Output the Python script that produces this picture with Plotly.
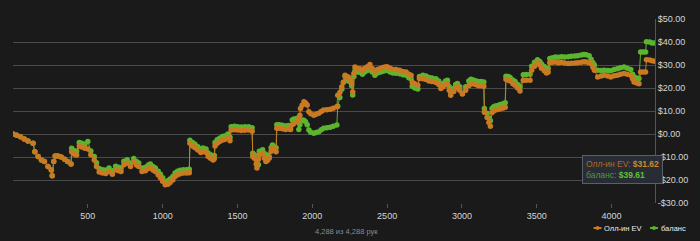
import plotly.graph_objects as go

# ---------------- data ----------------
hands = [
    0, 25, 50, 75, 100, 134, 146, 168, 190, 210, 234, 256, 262, 272, 282, 300, 322, 345, 365, 388,
    392, 410, 425, 443, 460, 480, 500, 520, 543, 558, 576, 598, 620, 642, 664, 686, 705, 722, 741, 763,
    785, 807, 825, 840, 862, 885, 905, 918, 935, 951, 970, 985, 1000, 1017, 1035, 1050, 1068, 1083, 1100, 1117,
    1138, 1160, 1178, 1182, 1200, 1216, 1235, 1255, 1270, 1290, 1304, 1320, 1337, 1345, 1350, 1365, 1381, 1400, 1414, 1436,
    1450, 1458, 1480, 1502, 1525, 1550, 1575, 1598, 1602, 1613, 1625, 1630, 1640, 1646, 1668, 1680, 1690, 1700, 1712, 1725,
    1734, 1745, 1758, 1763, 1780, 1800, 1820, 1840, 1855, 1866, 1877, 1899, 1910, 1917, 1921, 1932, 1944, 1955, 1966, 1977,
    1990, 2010, 2025, 2043, 2060, 2076, 2098, 2120, 2140, 2164, 2170, 2184, 2197, 2208, 2219, 2230, 2241, 2255, 2263, 2270,
    2278, 2285, 2300, 2318, 2335, 2350, 2368, 2385, 2400, 2418, 2435, 2451, 2468, 2484, 2500, 2520, 2539, 2560, 2583, 2605,
    2627, 2645, 2660, 2668, 2685, 2705, 2716, 2739, 2760, 2780, 2800, 2826, 2845, 2859, 2875, 2890, 2903, 2915, 2925, 2945,
    2958, 2970, 2985, 3003, 3025, 3046, 3060, 3075, 3091, 3110, 3128, 3146, 3150, 3168, 3180, 3190, 3201, 3212, 3223, 3240,
    3256, 3275, 3289, 3294, 3310, 3322, 3340, 3355, 3372, 3388, 3410, 3430, 3455, 3466, 3485, 3505, 3520, 3532, 3550, 3565,
    3576, 3587, 3605, 3625, 3645, 3665, 3686, 3710, 3731, 3755, 3774, 3797, 3815, 3830, 3850, 3863, 3875, 3885, 3907, 3930,
    3951, 3975, 3995, 4017, 4039, 4060, 4083, 4105, 4128, 4140, 4150, 4168, 4183, 4194, 4210, 4227, 4233, 4255, 4270, 4288,
]

allin_ev = [
    0.0, -0.5, -1.2, -2.2, -3.0, -4.0, -7.7, -9.8, -11.3, -12.0, -14.1, -15.6, -18.2, -12.0, -9.6, -9.6, -10.0, -11.0, -12.0, -13.0,
    -7.7, -8.8, -9.1, -5.2, -5.6, -6.2, -6.5, -9.0, -11.3, -14.1, -16.5, -17.0, -17.2, -16.3, -17.5, -15.6, -16.0, -16.3, -13.4, -12.7,
    -14.1, -12.2, -13.5, -14.1, -16.3, -16.0, -15.0, -14.5, -15.6, -16.3, -17.7, -19.0, -20.5, -22.1, -21.8, -21.1, -20.0, -18.5, -17.7, -17.3,
    -17.0, -17.0, -16.8, -4.0, -5.2, -6.0, -7.0, -8.0, -7.6, -8.0, -9.8, -10.5, -11.3, -10.8, -5.2, -4.0, -3.3, -2.6, -2.4, -1.5,
    -2.9, 1.7, 1.9, 1.7, 1.5, 1.6, 1.7, 1.2, -9.8, -10.5, -13.0, -14.8, -11.0, -9.1, -8.4, -10.5, -12.0, -11.5, -10.5, -7.5,
    -6.2, -7.0, -7.7, 2.5, 2.5, 2.3, 2.0, 2.2, 2.0, 4.0, 4.6, 5.3, 6.5, 8.2, 11.1, 12.5, 14.0, 13.5, 12.6, 9.7,
    8.8, 8.2, 8.6, 9.0, 9.8, 10.4, 10.5, 10.8, 11.2, 11.8, 16.9, 18.0, 20.5, 22.5, 25.5, 25.0, 24.8, 23.5, 22.0, 18.3,
    26.3, 29.1, 28.5, 28.4, 27.7, 28.6, 29.2, 30.2, 28.5, 27.0, 28.0, 28.4, 28.8, 29.1, 29.2, 28.6, 28.0, 28.0, 27.7, 27.2,
    27.0, 26.0, 25.5, 22.5, 21.8, 21.2, 24.1, 24.0, 23.7, 23.0, 22.8, 22.4, 21.5, 19.8, 20.5, 21.5, 21.9, 19.0, 16.9, 18.5,
    20.0, 20.5, 19.0, 17.4, 19.0, 21.0, 21.9, 21.8, 21.5, 21.0, 21.0, 20.8, 9.5, 7.2, 5.0, 3.4, 9.3, 10.0, 10.4, 10.6,
    11.0, 11.3, 11.6, 23.8, 23.4, 23.0, 21.8, 21.2, 20.0, 18.7, 23.4, 23.4, 23.4, 27.7, 29.5, 31.0, 30.0, 28.6, 27.5, 26.5,
    27.0, 31.0, 31.2, 31.3, 31.0, 31.2, 30.9, 30.7, 30.8, 30.9, 31.0, 31.2, 31.4, 31.3, 31.0, 30.6, 29.0, 27.7, 24.8, 25.2,
    25.5, 25.2, 24.8, 25.3, 25.5, 26.0, 26.3, 26.0, 25.5, 24.0, 22.6, 22.2, 21.9, 27.0, 27.0, 27.0, 32.3, 32.2, 31.8, 31.62,
]

balance = [
    0.0, -0.5, -1.2, -2.2, -3.0, -4.0, -7.7, -9.8, -11.3, -12.0, -14.1, -15.6, -18.2, -12.0, -9.6, -9.6, -10.0, -11.0, -12.0, -13.0,
    -6.2, -7.3, -7.5, -3.7, -4.0, -4.5, -3.3, -7.4, -9.8, -12.5, -15.0, -15.5, -15.6, -14.8, -16.0, -14.0, -14.5, -14.8, -11.9, -11.2,
    -12.6, -10.7, -12.0, -12.6, -14.8, -14.5, -13.5, -13.0, -14.1, -14.8, -16.2, -17.5, -19.0, -20.6, -20.3, -19.6, -18.5, -17.0, -16.2, -15.8,
    -15.5, -15.5, -15.3, -2.7, -3.7, -4.5, -5.5, -6.5, -6.1, -6.5, -8.3, -9.0, -9.8, -9.3, -3.7, -2.5, -1.8, -1.1, -0.9, 0.0,
    -1.4, 3.2, 3.4, 3.2, 3.0, 3.1, 3.2, 2.7, -8.4, -9.0, -11.0, -12.5, -13.4, -7.5, -6.9, -8.5, -9.5, -9.1, -9.8, -6.0,
    -4.8, -5.5, -6.0, 4.0, 4.0, 3.8, 3.5, 3.7, 3.5, 6.1, 6.5, 6.8, 2.0, 4.0, 5.5, 6.1, 6.0, 5.3, 4.0, 1.7,
    0.8, 0.3, 0.6, 1.0, 1.8, 2.5, 2.7, 2.9, 3.4, 3.9, 12.1, 15.9, 19.5, 22.5, 25.0, 24.0, 23.0, 22.6, 21.0, 17.0,
    25.0, 27.5, 27.0, 26.8, 26.0, 27.0, 27.6, 28.6, 27.0, 25.5, 26.5, 26.8, 27.2, 27.5, 27.6, 27.0, 26.5, 26.4, 26.2, 25.8,
    25.5, 24.5, 24.0, 20.8, 20.0, 19.6, 25.0, 25.5, 25.2, 24.6, 24.4, 24.0, 23.0, 21.5, 22.0, 23.0, 23.4, 20.5, 18.0, 19.8,
    21.5, 22.0, 20.5, 17.6, 20.5, 23.0, 23.8, 23.5, 23.2, 22.8, 22.8, 22.6, 11.1, 9.0, 7.0, 5.8, 11.1, 11.8, 12.2, 12.4,
    12.8, 13.2, 13.6, 25.1, 25.0, 24.6, 23.5, 22.8, 21.5, 20.5, 25.8, 25.9, 26.0, 29.5, 31.2, 32.3, 31.5, 30.4, 29.4, 28.4,
    28.6, 32.8, 33.2, 33.5, 33.4, 33.6, 33.5, 33.6, 33.8, 33.9, 34.0, 34.3, 34.6, 34.5, 34.0, 32.5, 31.0, 30.0, 27.7, 27.6,
    27.7, 27.6, 27.5, 28.0, 28.4, 28.8, 29.1, 28.6, 28.0, 26.0, 24.8, 24.3, 24.1, 35.6, 35.6, 35.6, 40.1, 40.0, 39.6, 39.61,
]

assert len(hands) == len(allin_ev) == len(balance)

series_names = ["Олл-ин EV", "баланс"]
y_tick_values = [-30, -20, -10, 0, 10, 20, 30, 40, 50]
y_tick_labels = ["-$30.00", "-$20.00", "-$10.00", "$0.00", "$10.00", "$20.00", "$30.00", "$40.00", "$50.00"]
x_tick_values = [500, 1000, 1500, 2000, 2500, 3000, 3500, 4000]
tooltip_values = ["$31.62", "$39.61"]
footer_text = "4,288 из 4,288 рук"

# ---------------- styling / layout ----------------
W, H = 700, 241
ML, MR, MT, MB = 13, 39, 19, 38
PW, PH = W - ML - MR, H - MT - MB


def px(x):
    return (x - ML) / PW


def py(y):
    return 1 - (y - MT) / PH


BG = "#1a1a1a"
GRID = "#4a4a4a"
ORANGE = "#c97a22"
GREEN = "#5cb52e"
TXT = "#d6d6d6"
FONT = "Liberation Sans Narrow, Arial Narrow, Liberation Sans, Arial, sans-serif"

fig = go.Figure()
fig.add_trace(go.Scatter(
    x=hands, y=balance, name=series_names[1], mode="lines+markers",
    line=dict(color=GREEN, width=1), marker=dict(color=GREEN, size=5.5),
    hoverinfo="skip", showlegend=False,
))
fig.add_trace(go.Scatter(
    x=hands, y=allin_ev, name=series_names[0], mode="lines+markers",
    line=dict(color=ORANGE, width=1), marker=dict(color=ORANGE, size=5.5),
    hoverinfo="skip", showlegend=False,
))

shapes = []
annotations = []
# manual compact legend
legend_items = [(series_names[0], ORANGE, 599), (series_names[1], GREEN, 656)]
ly = 228
for name, col, x0 in legend_items:
    shapes.append(dict(type="line", xref="paper", yref="paper",
                       x0=px(x0), x1=px(x0 + 8), y0=py(ly), y1=py(ly),
                       line=dict(color=col, width=2)))
    shapes.append(dict(type="circle", xref="paper", yref="paper",
                       x0=px(x0 + 2), x1=px(x0 + 6), y0=py(ly + 2), y1=py(ly - 2),
                       fillcolor=col, line=dict(color=col, width=0)))
    annotations.append(dict(text=name, xref="paper", yref="paper",
                            x=px(x0 + 9), y=py(ly), xanchor="left", yanchor="middle",
                            showarrow=False, font=dict(family=FONT, size=7.5, color="#eeeeee")))

# footer
annotations.append(dict(text=footer_text, xref="paper", yref="paper",
                        x=px(350), y=py(231), xanchor="center", yanchor="middle",
                        showarrow=False, font=dict(family=FONT, size=7.5, color="#8c8c8c")))

# tooltip box
tip = ("<span style='color:#b06a26'>%s: </span><b><span style='color:#d4872c'>%s</span></b><br>"
       "<span style='color:#4f9c35'>%s: </span><b><span style='color:#5ec233'>%s</span></b>") % (
    series_names[0], tooltip_values[0], series_names[1], tooltip_values[1])
annotations.append(dict(text=tip, xref="paper", yref="paper",
                        x=px(587), y=py(155), xanchor="left", yanchor="top",
                        align="left", showarrow=False, bgcolor="#282c35",
                        bordercolor="#5a5f69", borderwidth=1, borderpad=3,
                        font=dict(family=FONT, size=8.5, color=TXT)))

fig.update_layout(
    width=W, height=H,
    margin=dict(l=ML, r=MR, t=MT, b=MB, pad=0),
    paper_bgcolor=BG, plot_bgcolor=BG,
    showlegend=False,
    shapes=shapes, annotations=annotations,
    xaxis=dict(range=[0, 4290], tickvals=x_tick_values, showgrid=False, zeroline=False,
               showline=False, ticks="outside", ticklen=4, tickcolor="#555555",
               tickfont=dict(family=FONT, size=9, color=TXT), fixedrange=True),
    yaxis=dict(range=[-30, 50], side="right", tickvals=y_tick_values, ticktext=y_tick_labels,
               showgrid=True, gridcolor=GRID, gridwidth=1, zeroline=False,
               showline=True, linecolor="#555555", linewidth=1, ticks="",
               tickfont=dict(family=FONT, size=9, color=TXT), fixedrange=True),
)

fig.write_html("out.html")
